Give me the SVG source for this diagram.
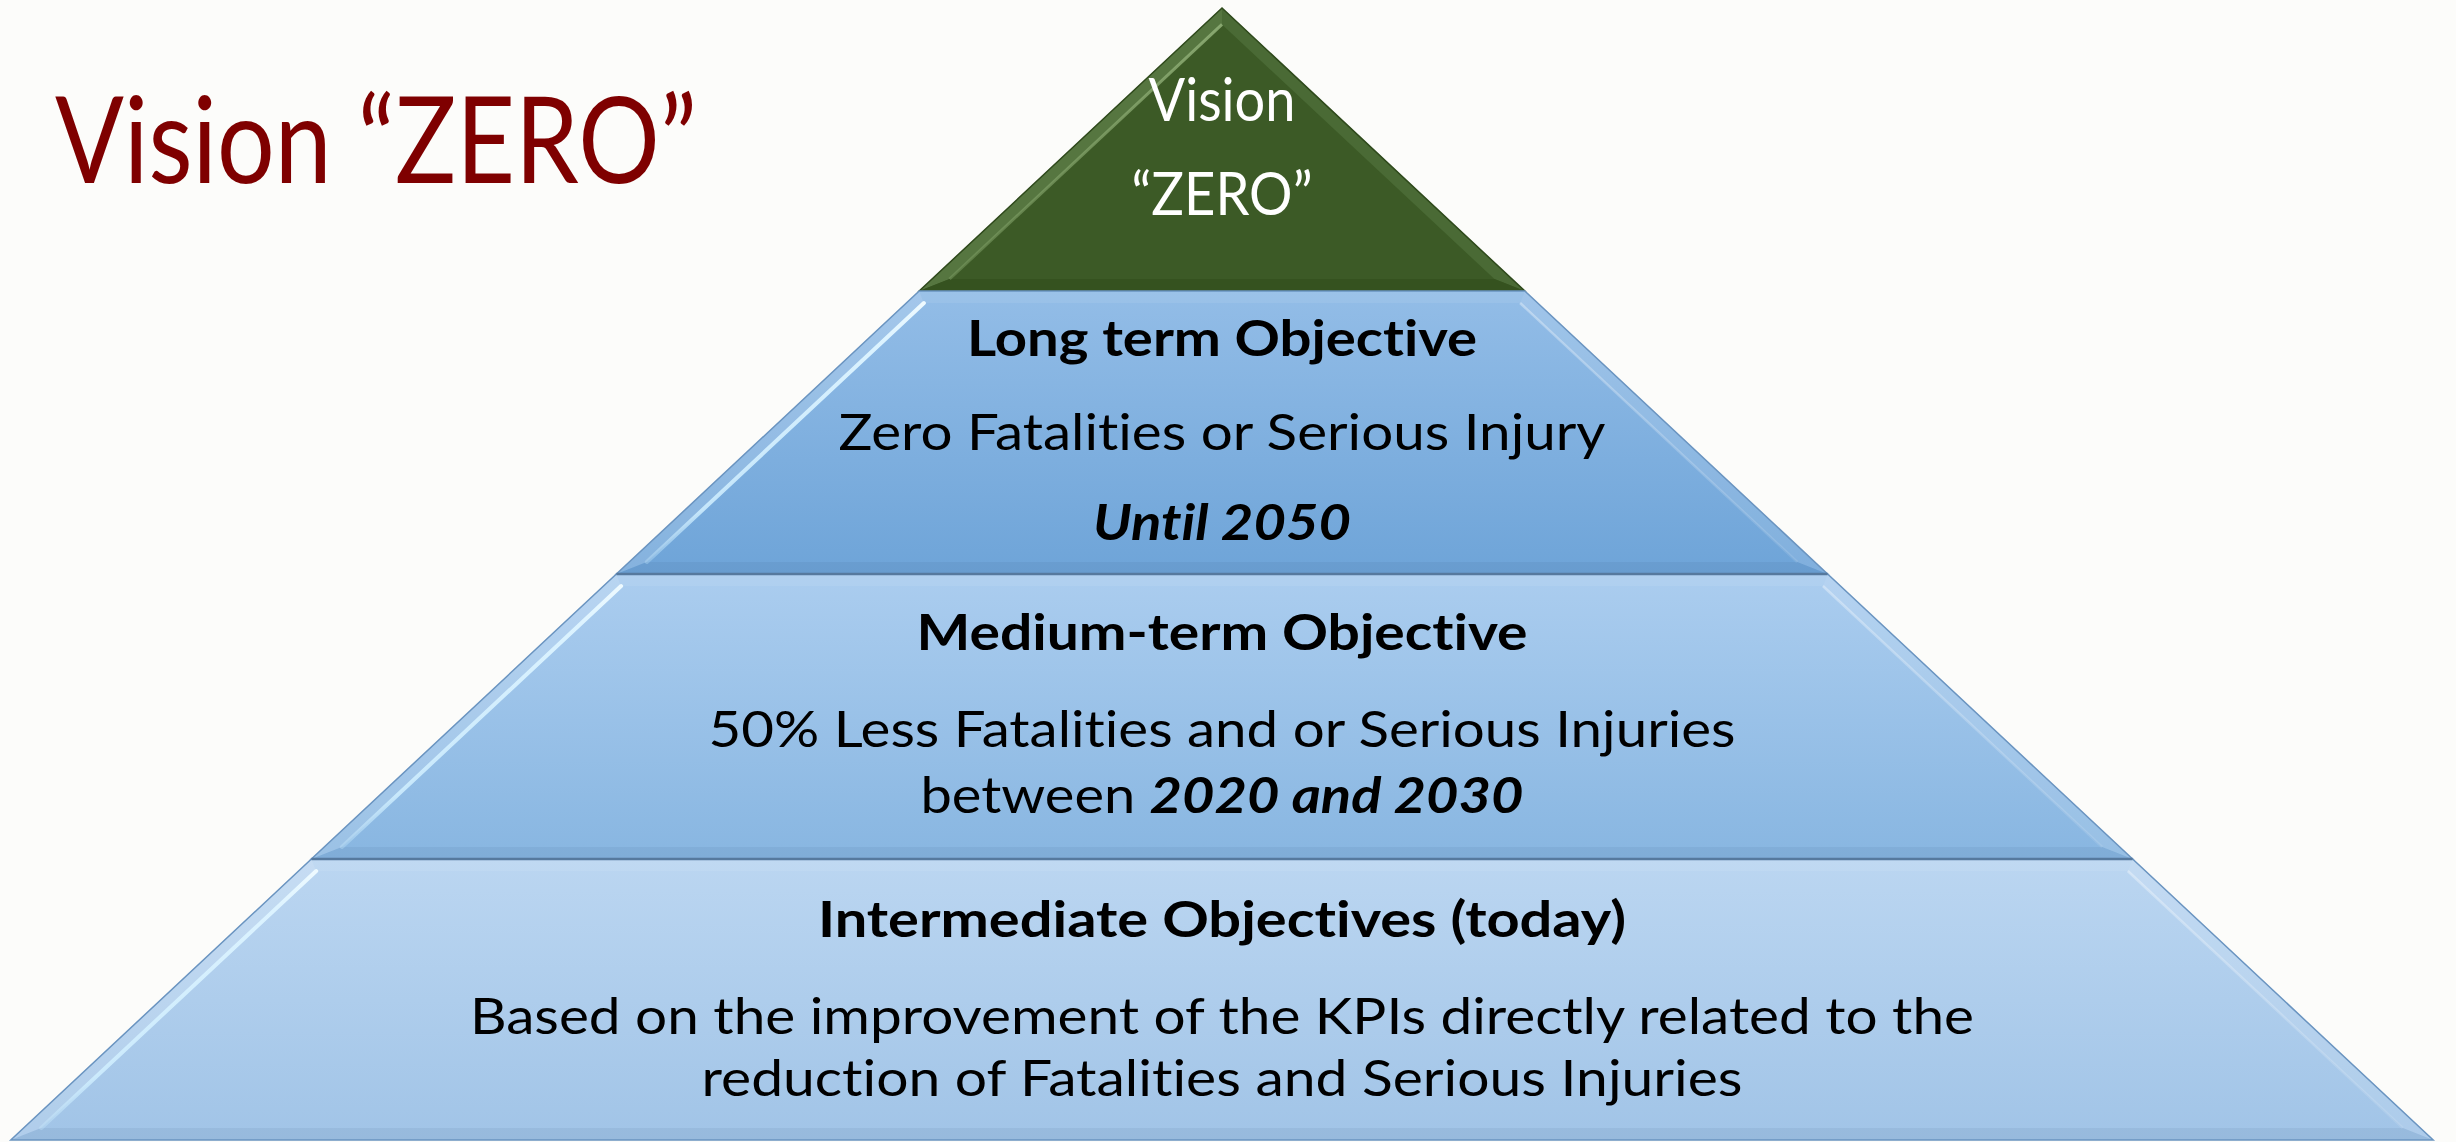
<svg xmlns="http://www.w3.org/2000/svg" width="2456" height="1142" viewBox="0 0 2456 1142">
  <style>
    text { font-variant-ligatures: none; font-feature-settings: "liga" 0, "dlig" 0; }
    .txt { font-family: Lato, "Liberation Sans", "DejaVu Sans", sans-serif; font-size: 50px; fill: #000; text-anchor: middle; }
    .b { font-weight: 700; }
    .bi { font-weight: 700; font-style: italic; }
    .vis { font-family: Lato, "Liberation Sans", "DejaVu Sans", sans-serif; font-size: 60px; fill: #fff; text-anchor: middle; }
    .title { font-family: Lato, "Liberation Sans", "DejaVu Sans", sans-serif; font-size: 121px; fill: #7f0000; }
    .edge { fill: none; stroke: #6a94c0; stroke-width: 1.5; }
    .sep { stroke: #56799e; stroke-width: 2.5; }
    .lband { fill: #ffffff; fill-opacity: 0.16; }
    .rband { fill: #ffffff; fill-opacity: 0.13; }
    .tband { fill: #ffffff; fill-opacity: 0.08; }
    .bband { fill: #1c3f66; fill-opacity: 0.07; }
    .shine { fill: none; stroke: url(#shineGrad); stroke-width: 4; stroke-linecap: round; }
    .rshine { fill: none; stroke: url(#rshineGrad); stroke-width: 2.5; }
  </style>
  <defs>
    <linearGradient id="g2" x1="0" y1="0" x2="0" y2="1">
      <stop offset="0" stop-color="#93bde7"/>
      <stop offset="1" stop-color="#6ea4d8"/>
    </linearGradient>
    <linearGradient id="g3" x1="0" y1="0" x2="0" y2="1">
      <stop offset="0" stop-color="#abcdef"/>
      <stop offset="1" stop-color="#88b6e1"/>
    </linearGradient>
    <linearGradient id="g4" x1="0" y1="0" x2="0" y2="1">
      <stop offset="0" stop-color="#bbd6f1"/>
      <stop offset="1" stop-color="#a1c4e7"/>
    </linearGradient>
    <linearGradient id="shineGrad" x1="0" y1="0" x2="0" y2="1">
      <stop offset="0" stop-color="#eefaff" stop-opacity="1"/>
      <stop offset="0.15" stop-color="#dcf3ff" stop-opacity="1"/>
      <stop offset="0.8" stop-color="#d0efff" stop-opacity="0.85"/>
      <stop offset="1" stop-color="#cdeeff" stop-opacity="0.3"/>
    </linearGradient>
    <linearGradient id="rshineGrad" x1="0" y1="0" x2="0" y2="1">
      <stop offset="0" stop-color="#ffffff" stop-opacity="0.35"/>
      <stop offset="1" stop-color="#ffffff" stop-opacity="0.1"/>
    </linearGradient>
    <linearGradient id="gShine" x1="0" y1="0" x2="0" y2="1">
      <stop offset="0" stop-color="#8fae76" stop-opacity="0.9"/>
      <stop offset="1" stop-color="#7c9c63" stop-opacity="0.5"/>
    </linearGradient>
  </defs>

  <!-- page -->
  <rect x="0" y="0" width="2456" height="1142" fill="#fcfcfa"/>

  <!-- heading -->
  <g id="title">
    <text class="title" x="55" y="183" textLength="642" lengthAdjust="spacingAndGlyphs">Vision “ZERO”</text>
  </g>

  <!-- apex: vision -->
  <g id="tier-vision">
    <polygon points="1222,8 919.2,291 1524.8,291" fill="#3c5a26"/>
    <polygon points="1222,8 1222,24.4 949.6,279 919.2,291" fill="#567640"/>
    <polygon points="1222,8 1524.8,291 1494.4,279 1222,24.4" fill="#4a6a35"/>
    <polygon points="949.6,279 1494.4,279 1524.8,291 919.2,291" fill="#35521f"/>
    <line x1="1222" y1="24.4" x2="949.6" y2="279" stroke="url(#gShine)" stroke-width="3"/>
    <polygon points="1222,8 919.2,291 1524.8,291" fill="none" stroke="#2f4a1c" stroke-width="1.5"/>
    <text class="vis" x="1222" y="121" textLength="147" lengthAdjust="spacingAndGlyphs">Vision</text>
    <text class="vis" x="1222" y="215" textLength="181" lengthAdjust="spacingAndGlyphs">“ZERO”</text>
  </g>

  <!-- long term tier -->
  <g id="tier-long-term">
    <polygon points="919.2,291 1524.8,291 1827.6,574 616.4,574" fill="url(#g2)"/>
    <polygon class="lband" points="919.2,291 923.9,303 646.8,562 616.4,574"/>
    <polygon class="rband" points="1524.8,291 1827.6,574 1797.2,562 1520.1,303"/>
    <polygon class="tband" points="919.2,291 1524.8,291 1520.1,303 923.9,303"/>
    <polygon class="bband" points="646.8,562 1797.2,562 1827.6,574 616.4,574"/>
    <line class="shine" x1="923.9" y1="303" x2="646.8" y2="562"/>
    <line class="rshine" x1="1520.1" y1="303" x2="1797.2" y2="562"/>
    <polygon class="edge" points="919.2,291 1524.8,291 1827.6,574 616.4,574"/>
    <text class="txt b" x="1222" y="356" textLength="510" lengthAdjust="spacingAndGlyphs">Long term Objective</text>
    <text class="txt" x="1222" y="450" textLength="767" lengthAdjust="spacingAndGlyphs">Zero Fatalities or Serious Injury</text>
    <text class="txt bi" x="1222" y="540" textLength="258" lengthAdjust="spacingAndGlyphs">Until 2050</text>
  </g>

  <!-- medium term tier -->
  <g id="tier-medium-term">
    <polygon points="616.4,574 1827.6,574 2132.6,859 311.4,859" fill="url(#g3)"/>
    <polygon class="lband" points="616.4,574 621.1,586 341.9,847 311.4,859"/>
    <polygon class="rband" points="1827.6,574 2132.6,859 2102.1,847 1822.9,586"/>
    <polygon class="tband" points="616.4,574 1827.6,574 1822.9,586 621.1,586"/>
    <polygon class="bband" points="341.9,847 2102.1,847 2132.6,859 311.4,859"/>
    <line class="shine" x1="621.1" y1="586" x2="341.9" y2="847"/>
    <line class="rshine" x1="1822.9" y1="586" x2="2102.1" y2="847"/>
    <polygon class="edge" points="616.4,574 1827.6,574 2132.6,859 311.4,859"/>
    <line class="sep" x1="616.4" y1="574" x2="1827.6" y2="574"/>
    <text class="txt b" x="1222" y="650" textLength="611" lengthAdjust="spacingAndGlyphs">Medium-term Objective</text>
    <text class="txt" x="1222" y="747" textLength="1027" lengthAdjust="spacingAndGlyphs">50% Less Fatalities and or Serious Injuries</text>
    <text class="txt" x="1222" y="813" textLength="603" lengthAdjust="spacingAndGlyphs">between <tspan class="bi">2020 and 2030</tspan></text>
  </g>

  <!-- intermediate tier -->
  <g id="tier-intermediate">
    <polygon points="311.4,859 2132.6,859 2433.2,1140 10.8,1140" fill="url(#g4)"/>
    <polygon class="lband" points="311.4,859 316.2,871 41.2,1128 10.8,1140"/>
    <polygon class="rband" points="2132.6,859 2433.2,1140 2402.8,1128 2127.8,871"/>
    <polygon class="tband" points="311.4,859 2132.6,859 2127.8,871 316.2,871"/>
    <polygon class="bband" points="41.2,1128 2402.8,1128 2433.2,1140 10.8,1140"/>
    <line class="shine" x1="316.2" y1="871" x2="41.2" y2="1128"/>
    <line class="rshine" x1="2127.8" y1="871" x2="2402.8" y2="1128"/>
    <polygon class="edge" points="311.4,859 2132.6,859 2433.2,1140 10.8,1140"/>
    <line class="sep" x1="311.4" y1="859" x2="2132.6" y2="859"/>
    <text class="txt b" x="1222" y="937" textLength="808" lengthAdjust="spacingAndGlyphs">Intermediate Objectives (today)</text>
    <text class="txt" x="1222" y="1034" textLength="1504" lengthAdjust="spacingAndGlyphs">Based on the improvement of the KPIs directly related to the</text>
    <text class="txt" x="1222" y="1096" textLength="1041" lengthAdjust="spacingAndGlyphs">reduction of Fatalities and Serious Injuries</text>
  </g>
</svg>
